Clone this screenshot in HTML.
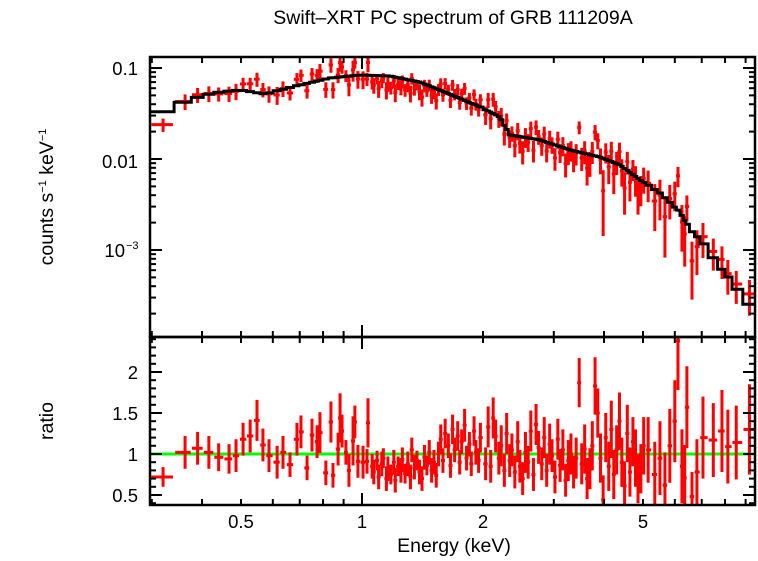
<!DOCTYPE html>
<html><head><meta charset="utf-8"><style>
body{margin:0;background:#fff}
svg text{font-family:"Liberation Sans",sans-serif;fill:#000}
</style></head><body>
<svg id="c" width="758" height="556" xmlns="http://www.w3.org/2000/svg">
<text x="453" y="24" font-size="19.5" text-anchor="middle">Swift–XRT PC spectrum of GRB 111209A</text>
<text transform="translate(53,197) rotate(-90)" font-size="19.5" text-anchor="middle">counts s<tspan font-size="11" dy="-7">−1</tspan><tspan dy="7"> keV</tspan><tspan font-size="11" dy="-7">−1</tspan></text>
<text transform="translate(53,421) rotate(-90)" font-size="19.5" text-anchor="middle">ratio</text>
<text x="454" y="552" font-size="19.5" text-anchor="middle">Energy (keV)</text>
<g id="g"></g>
</svg>
<script>
const lowE=[0.32,0.363,0.39,0.416,0.44,0.467,0.486,0.506,0.527,0.548,0.567,0.587,0.615,0.636,0.662,0.689,0.705,0.73,0.751,0.773,0.786,0.813,0.837,0.847,0.872,0.882,0.892,0.912,0.928,0.95,0.96,0.977,1.006,1.029,1.035];
const lowR=[0.72,1.02,1.07,1.02,0.96,0.94,0.98,1.18,1.22,1.41,1.11,0.98,0.90,1.02,0.87,1.18,1.27,0.83,1.23,1.15,1.26,0.77,1.39,0.74,1.06,1.44,1.28,1.02,0.80,1.16,1.39,0.91,0.90,0.91,1.38];
const lowErr=[0.12,0.2,0.2,0.2,0.17,0.18,0.2,0.2,0.2,0.25,0.2,0.2,0.2,0.2,0.15,0.2,0.2,0.15,0.2,0.2,0.25,0.15,0.25,0.15,0.2,0.3,0.2,0.15,0.2,0.3,0.2,0.2,0.2,0.15,0.3];
const midE=[1.06,1.07,1.09,1.10,1.12,1.13,1.15,1.16,1.18,1.20,1.21,1.23,1.25,1.26,1.28,1.30,1.32,1.33,1.35,1.37,1.39,1.41,1.43,1.45,1.47,1.49,1.51,1.53,1.55,1.57,1.59,1.61,1.64,1.66,1.68,1.70,1.73,1.75,1.77,1.80,1.82,1.85,1.87,1.90,1.92,1.95,1.97];
const midR=[0.85,0.78,0.92,0.72,0.88,0.95,0.70,0.82,0.75,0.90,0.68,0.85,0.80,0.93,0.76,0.88,0.72,1.05,0.84,0.92,0.78,0.70,0.96,0.86,1.02,0.80,0.90,0.74,1.00,1.18,0.92,1.25,1.10,0.86,1.30,1.05,1.22,0.90,1.15,1.35,0.95,1.12,0.88,1.28,1.02,0.92,1.20];
const midErr=[0.15,0.15,0.12,0.15,0.15,0.12,0.15,0.15,0.12,0.15,0.15,0.12,0.15,0.15,0.12,0.15,0.15,0.15,0.15,0.12,0.15,0.15,0.15,0.12,0.15,0.15,0.15,0.15,0.15,0.18,0.15,0.18,0.15,0.15,0.18,0.15,0.18,0.15,0.15,0.2,0.15,0.15,0.15,0.18,0.15,0.15,0.18];
const hiE=[2.03,2.06,2.09,2.12,2.15,2.19,2.22,2.26,2.29,2.33,2.36,2.40,2.44,2.47,2.51,2.55,2.59,2.63,2.67,2.71,2.75,2.80,2.84,2.88,2.93,2.97,3.02,3.07,3.11,3.16,3.21,3.26,3.31,3.36,3.41,3.47,3.52,3.58,3.63,3.69,3.74,3.80,3.86,3.92,3.98,4.04,4.11,4.17,4.23,4.30,4.37,4.43,4.50,4.57,4.64,4.72,4.79,4.86,4.94,5.02];
const hiR=[0.88,1.33,0.85,1.44,1.22,0.95,1.10,0.80,1.25,0.92,1.05,0.78,1.15,0.85,0.70,1.02,0.90,1.28,0.75,1.36,1.08,0.88,1.20,0.80,1.12,0.98,0.72,1.18,0.86,1.05,0.68,0.92,1.00,0.78,0.95,1.87,0.88,1.06,0.70,0.82,1.10,1.83,1.50,0.95,0.44,1.20,0.85,1.30,0.75,1.05,1.40,0.90,0.61,1.25,0.78,1.15,0.95,0.70,0.82,1.10];
const hiErr=[0.2,0.25,0.2,0.25,0.2,0.2,0.25,0.2,0.25,0.2,0.2,0.2,0.25,0.2,0.2,0.25,0.2,0.25,0.2,0.25,0.2,0.2,0.25,0.2,0.25,0.2,0.2,0.25,0.2,0.25,0.2,0.25,0.25,0.2,0.25,0.3,0.25,0.3,0.25,0.25,0.3,0.35,0.3,0.3,0.3,0.3,0.3,0.35,0.3,0.3,0.35,0.3,0.3,0.35,0.3,0.3,0.35,0.3,0.3,0.35];
const topE=[5.15,5.35,5.51,5.67,5.83,6.00,6.11,6.25,6.35,6.43,6.62,6.81,7.05,7.48,7.86,8.13,8.53,9.2];
const topR=[1.05,0.75,0.95,0.62,1.10,1.40,2.38,0.85,0.71,1.57,0.48,0.78,1.20,1.17,1.28,1.09,1.14,1.30];
const topErr=[0.4,0.4,0.45,0.4,0.45,0.5,0.6,0.45,0.4,0.5,0.3,0.4,0.5,0.45,0.5,0.45,0.45,0.55];
const modelE=[0.297,0.347,0.373,0.407,0.443,0.497,0.574,0.625,0.701,0.832,0.989,1.17,1.39,1.65,1.97,2.20,2.33,2.77,3.29,3.91,4.38,4.92,5.51,6.18,6.55,6.93,7.55,8.23,8.72,9.5];
const modelV=[0.029,0.0382,0.0445,0.0505,0.0544,0.0573,0.0518,0.0573,0.065,0.0776,0.0838,0.0817,0.0702,0.0518,0.0373,0.029,0.0184,0.0162,0.0126,0.0105,0.0086,0.00588,0.00423,0.00262,0.00166,0.00129,0.00078,0.00047,0.00032,0.00022];

const X0=150,X1=755,TY0=57,TY1=337,BY1=505;
const xs=e=>362+402*Math.log10(e);
const ty=v=>68-91*(Math.log10(v)+1);
const by=r=>454-82*(r-1);
const NS="http://www.w3.org/2000/svg";
const g=document.getElementById('g');
function el(t,a){const n=document.createElementNS(NS,t);for(const k in a)n.setAttribute(k,a[k]);g.appendChild(n);return n;}
function model(e){
  const l=Math.log10(e);
  for(let i=0;i<modelE.length-1;i++){
    const a=Math.log10(modelE[i]),b=Math.log10(modelE[i+1]);
    if(l<=b||i==modelE.length-2){const t=Math.max(0,Math.min(1,(l-a)/(b-a)));return Math.pow(10,Math.log10(modelV[i])*(1-t)+Math.log10(modelV[i+1])*t);}
  }
}
const E=lowE.concat(midE,hiE,topE),R=lowR.concat(midR,hiR,topR),RE=lowErr.concat(midErr,hiErr,topErr);
const edges=[];
for(let i=0;i<=E.length;i++){
  if(i==0)edges.push(0.297);
  else if(i==E.length)edges.push(9.5);
  else edges.push(Math.sqrt(E[i-1]*E[i]));
}
const defs=el('defs',{});
defs.innerHTML='<clipPath id="ct"><rect x="150" y="57" width="605" height="280"/></clipPath><clipPath id="cb"><rect x="150" y="337" width="605" height="168"/></clipPath>';
const gl=el('line',{x1:X0,x2:X1,y1:by(1),y2:by(1),stroke:'#00ff00','stroke-width':3});


const gt=el('g',{'clip-path':'url(#ct)'});


const gb=el('g',{'clip-path':'url(#cb)'});


function ln(p,x1,y1,x2,y2,name){const n=document.createElementNS(NS,'line');n.setAttribute('x1',x1);n.setAttribute('x2',x2);n.setAttribute('y1',y1);n.setAttribute('y2',y2);n.setAttribute('stroke','#ff0000');n.setAttribute('stroke-width',3);


p.appendChild(n);}
let mp='';
for(let i=0;i<E.length;i++){
  const m=model(E[i]);
  const xl=xs(edges[i]),xr=xs(edges[i+1]),xc=xs(E[i]);
  const hxl=Math.min(xc-2,xs(E[i])-(xs(E[i])-xl)*0.9),hxr=Math.max(xc+2,xs(E[i])+(xr-xs(E[i]))*0.9);
  const v=m*R[i],vlo=Math.max(m*(R[i]-RE[i]),1e-6),vhi=m*(R[i]+RE[i]);
  ln(gt,hxl,ty(v),hxr,ty(v),'spectrum-point-xerr');
  ln(gt,xc,ty(vlo),xc,ty(vhi),'spectrum-point-yerr');
  ln(gb,hxl,by(R[i]),hxr,by(R[i]),'ratio-point-xerr');
  ln(gb,xc,by(R[i]-RE[i]),xc,by(R[i]+RE[i]),'ratio-point-yerr');
  mp+=(i==0?'M':'L')+xl.toFixed(1)+','+ty(m).toFixed(1)+'L'+xr.toFixed(1)+','+ty(m).toFixed(1);
}
const mpath=el('path',{d:mp,fill:'none',stroke:'#000','stroke-width':3,'clip-path':'url(#ct)'});


const f1=el('rect',{x:X0,y:TY0,width:X1-X0,height:TY1-TY0,fill:'none',stroke:'#000','stroke-width':2.5});


const f2=el('rect',{x:X0,y:TY1,width:X1-X0,height:BY1-TY1,fill:'none',stroke:'#000','stroke-width':2.5});


function tk(x1,y1,x2,y2,name){const n=el('line',{x1,y1,x2,y2,stroke:'#000','stroke-width':2});

}
function tx(x,y,s,anchor,name){const n=el('text',{x,y,'font-size':18.5,'text-anchor':anchor});n.textContent=s;

return n;}
const xMinor=[0.3,0.4,0.5,0.6,0.7,0.8,0.9,2,3,4,5,6,7,8,9];
for(const e of xMinor){const x=xs(e);
  for(const [a,b] of [[TY0,TY0+6],[TY1-6,TY1+6],[BY1-6,BY1]])tk(x,a,x,b,'x-minor-tick');}
{const x=xs(1);for(const [a,b] of [[TY0,TY0+12],[TY1-12,TY1+12],[BY1-12,BY1]])tk(x,a,x,b,'x-major-tick');}
const xLabels=['0.5','1','2','5'];
for(const s of xLabels)tx(xs(parseFloat(s)),528,s,'middle','x-tick-label');
for(let d=-4;d<=-1;d++){for(let k=1;k<=9;k++){const v=k*Math.pow(10,d);const y=ty(v);if(y<TY0||y>TY1)continue;const L=k==1?12:6;tk(X0,y,X0+L,y,'y-tick-top');tk(X1-L,y,X1,y,'y-tick-top');}}
tx(138,75,'0.1','end','y-tick-label-0.1');
tx(138,168,'0.01','end','y-tick-label-0.01');
const t3=tx(125,257,'10','end','y-tick-label-1e-3');
const sup=el('text',{x:126,y:249,'font-size':11});sup.textContent='−3';


for(let r=0.4;r<=2.41;r+=0.1){const rr=Math.round(r*10)/10;const y=by(rr);const major=Math.abs(rr*2-Math.round(rr*2))<1e-6;const L=major?12:6;tk(X0,y,X0+L,y,'y-tick-ratio');tk(X1-L,y,X1,y,'y-tick-ratio');}
const rLabels=['0.5','1','1.5','2'];
for(const s of rLabels)tx(138,by(parseFloat(s))+7,s,'end','ratio-tick-label');
</script>
</body></html>
